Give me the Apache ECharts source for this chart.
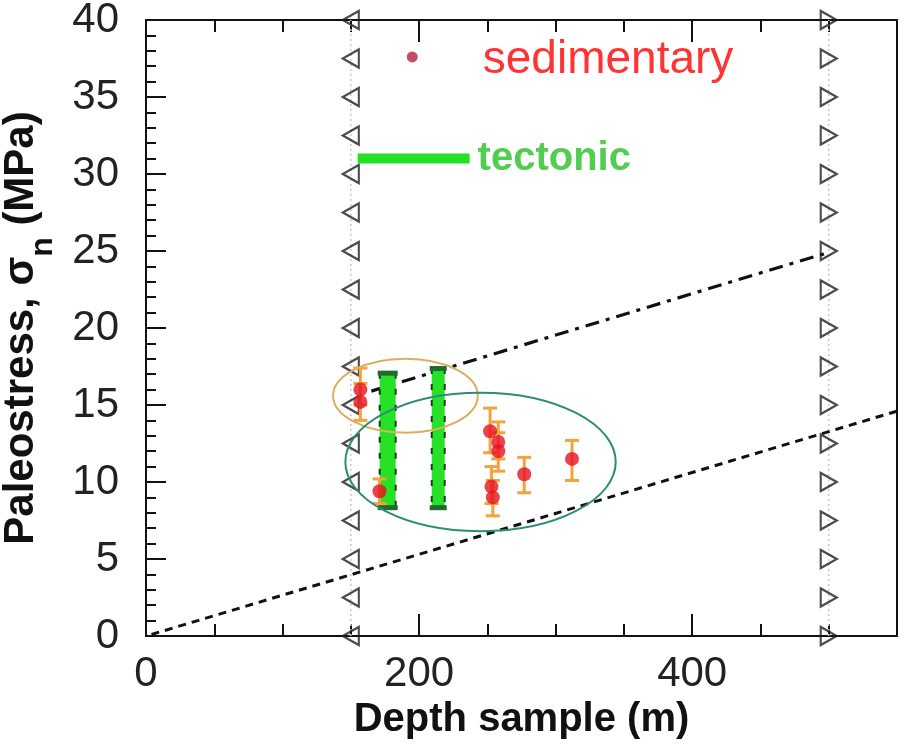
<!DOCTYPE html>
<html><head><meta charset="utf-8">
<script src="https://cdn.jsdelivr.net/npm/echarts@6/dist/echarts.min.js"></script>
<style>html,body{margin:0;padding:0;background:#fff}#c{width:906px;height:746px}</style>
</head><body><div id="c"></div>
<script>
// ---- data ----
const xTickLabels = [0, 200, 400];
const yTickLabels = [0, 5, 10, 15, 20, 25, 30, 35, 40];
const triangleY = [0, 2.5, 5, 7.5, 10, 12.5, 15, 17.5, 20, 22.5, 25, 27.5, 30, 32.5, 35, 37.5, 40];
const triangleLeftX = 150;
const triangleRightX = 500;
// sedimentary samples
const sedX    = [157, 157, 171, 252, 258, 258, 253, 254, 277, 312];
const sedY    = [16.0, 15.2, 9.4, 13.3, 12.6, 12.0, 9.7, 9.0, 10.5, 11.5];
const sedLow  = [15.0, 14.0, 8.6, 11.9, 11.5, 10.7, 8.6, 7.8, 9.3, 10.1];
const sedHigh = [17.4, 16.4, 10.2, 14.8, 13.9, 13.2, 11.0, 10.1, 11.6, 12.7];
// tectonic ranges
const tecX    = [177, 214];
const tecLow  = [8.3, 8.3];
const tecHigh = [17.1, 17.4];
// reference lines
const upperLineX = [165, 462, 500];
const upperLineY = [15.9, 23.9, 24.9];
const lowerLineX = [4, 550];
const lowerLineY = [0.1, 14.6];
// ellipses: [centerX, centerY, radiusX, radiusY]
const ellipseOrange = [190, 15.6, 53, 2.4];
const ellipseTeal   = [245, 11.3, 99, 4.5];
// legend marks
const legendSed = [195, 37.6];
const legendTecX = [155, 237];
const legendTecY = [31, 31];

// ---- chart ----
const FONT = 'Liberation Sans, Arial, sans-serif';
const chart = echarts.init(document.getElementById('c'));
const zip = (a, b) => a.map((v, i) => [v, b[i]]);

function tecRender(w) {
  return function (params, api) {
    const top = api.coord([api.value(0), api.value(2)]);
    const bot = api.coord([api.value(0), api.value(1)]);
    const x = top[0];
    return {type: 'group', children: [
      {type: 'rect', shape: {x: x - w / 2, y: top[1], width: w, height: bot[1] - top[1]}, style: {fill: '#26e226'}},
      {type: 'line', shape: {x1: x - w / 2, y1: top[1], x2: x - w / 2, y2: bot[1]}, style: {stroke: '#1b3d1b', lineWidth: 2, lineDash: [6, 10]}},
      {type: 'line', shape: {x1: x + w / 2, y1: top[1], x2: x + w / 2, y2: bot[1]}, style: {stroke: '#1b3d1b', lineWidth: 2, lineDash: [6, 10]}},
      {type: 'rect', shape: {x: x - w / 2 - 2, y: top[1] - 2, width: w + 4, height: 5}, style: {fill: '#1f6a2c'}},
      {type: 'rect', shape: {x: x - w / 2 - 2, y: bot[1] - 3, width: w + 4, height: 5}, style: {fill: '#1f6a2c'}}
    ]};
  };
}
function errRender(params, api) {
  const top = api.coord([api.value(0), api.value(2)]);
  const bot = api.coord([api.value(0), api.value(1)]);
  const x = top[0], hw = 7;
  const st = {stroke: '#f3a23c', lineWidth: 3};
  return {type: 'group', children: [
    {type: 'line', shape: {x1: x, y1: top[1], x2: x, y2: bot[1]}, style: st},
    {type: 'line', shape: {x1: x - hw, y1: top[1], x2: x + hw, y2: top[1]}, style: st},
    {type: 'line', shape: {x1: x - hw, y1: bot[1], x2: x + hw, y2: bot[1]}, style: st}
  ]};
}
function ellipseRender(color) {
  return function (params, api) {
    const c = api.coord([api.value(0), api.value(1)]);
    const s = api.size([api.value(2), api.value(3)]);
    const rx = s[0], ry = s[1];
    const d = `M ${c[0] - rx} ${c[1]} A ${rx} ${ry} 0 1 0 ${c[0] + rx} ${c[1]} A ${rx} ${ry} 0 1 0 ${c[0] - rx} ${c[1]} Z`;
    return {type: 'path', shape: {pathData: d}, style: {fill: 'none', stroke: color, lineWidth: 2}};
  };
}

const axisLineStyle = {color: '#111', width: 2};
const xBase = {type: 'value', min: 0, max: 550, splitLine: {show: false}};
const option = {
  animation: false,
  backgroundColor: '#fff',
  grid: {left: 146, right: 9, top: 20, bottom: 110, containLabel: false, outerBoundsMode: 'none'},
  xAxis: [
    Object.assign({}, xBase, {
      position: 'bottom', interval: 200,
      axisLine: {onZero: false, lineStyle: axisLineStyle},
      axisTick: {inside: true, length: 22, lineStyle: {color: '#111', width: 2}},
      axisLabel: {fontSize: 42, color: '#222', fontFamily: FONT, margin: 17,
        formatter: v => (xTickLabels.indexOf(v) >= 0 ? String(v) : '')},
      name: 'Depth sample (m)', nameLocation: 'middle', nameGap: 54,
      nameTextStyle: {fontSize: 40, fontWeight: 'bold', color: '#111', fontFamily: FONT}
    }),
    Object.assign({}, xBase, {
      position: 'bottom', interval: 50,
      axisLine: {show: false, onZero: false},
      axisTick: {inside: true, length: 12, lineStyle: {color: '#111', width: 2}},
      axisLabel: {show: false}
    }),
    Object.assign({}, xBase, {
      position: 'top', interval: 200,
      axisLine: {onZero: false, lineStyle: axisLineStyle},
      axisTick: {inside: true, length: 22, lineStyle: {color: '#111', width: 2}},
      axisLabel: {show: false}
    }),
    Object.assign({}, xBase, {
      position: 'top', interval: 50,
      axisLine: {show: false, onZero: false},
      axisTick: {inside: true, length: 12, lineStyle: {color: '#111', width: 2}},
      axisLabel: {show: false}
    })
  ],
  yAxis: [
    {
      type: 'value', min: 0, max: 40, interval: 5, position: 'left',
      splitLine: {show: false},
      axisLine: {onZero: false, lineStyle: axisLineStyle},
      axisTick: {inside: true, length: 20, lineStyle: {color: '#111', width: 2}},
      minorTick: {show: true, splitNumber: 5, length: 10, lineStyle: {color: '#111', width: 2}},
      axisLabel: {fontSize: 42, color: '#222', fontFamily: FONT, margin: 27,
        formatter: v => (yTickLabels.indexOf(v) >= 0 ? String(v) : '')},
      name: '{m|Paleostress, σ}{s|n}{m| (MPa)}', nameLocation: 'middle', nameGap: 87,
      nameTextStyle: {
        rich: {
          m: {fontSize: 42, fontWeight: 'bold', color: '#111', fontFamily: FONT},
          s: {fontSize: 32, fontWeight: 'bold', color: '#111', fontFamily: FONT, padding: [44, 0, 0, 0]}
        }
      }
    },
    {
      type: 'value', min: 0, max: 40, position: 'right',
      splitLine: {show: false},
      axisLine: {onZero: false, lineStyle: axisLineStyle},
      axisTick: {show: false}, axisLabel: {show: false}
    }
  ],
  series: [
    {type: 'line', data: [[triangleLeftX, 0], [triangleLeftX, 40]], showSymbol: false, silent: true,
      lineStyle: {color: '#c8c8c8', width: 1.5, type: [2, 3]}, z: 1},
    {type: 'line', data: [[triangleRightX, 0], [triangleRightX, 40]], showSymbol: false, silent: true,
      lineStyle: {color: '#c8c8c8', width: 1.5, type: [2, 3]}, z: 1},
    {type: 'scatter', data: triangleY.map(y => [triangleLeftX, y]), symbol: 'triangle', symbolRotate: 90,
      symbolSize: [18, 16], itemStyle: {color: 'rgba(255,255,255,0)', borderColor: '#1e1e1e', borderWidth: 2.2}, z: 2, clip: false},
    {type: 'scatter', data: triangleY.map(y => [triangleRightX, y]), symbol: 'triangle', symbolRotate: -90,
      symbolSize: [18, 16], itemStyle: {color: 'rgba(255,255,255,0)', borderColor: '#1e1e1e', borderWidth: 2.2}, z: 2, clip: false},
    {type: 'line', data: zip(lowerLineX, lowerLineY), showSymbol: false,
      lineStyle: {color: '#111', width: 3, type: [8, 6]}, z: 3},
    {type: 'line', data: zip(upperLineX, upperLineY), showSymbol: false,
      lineStyle: {color: '#111', width: 3.2, type: [14, 7, 4, 7]}, z: 3},
    {type: 'custom', renderItem: tecRender(16), data: [[tecX[0], tecLow[0], tecHigh[0]]], z: 4},
    {type: 'custom', renderItem: tecRender(13), data: [[tecX[1], tecLow[1], tecHigh[1]]], z: 4},
    {type: 'custom', renderItem: errRender, data: sedX.map((x, i) => [x, sedLow[i], sedHigh[i]]), z: 5},
    {type: 'scatter', data: zip(sedX, sedY), symbolSize: 14, itemStyle: {color: '#e5121f'}, z: 6},
    {type: 'custom', renderItem: ellipseRender('#dcae5e'), data: [ellipseOrange], z: 7},
    {type: 'custom', renderItem: ellipseRender('#2e8b78'), data: [ellipseTeal], z: 7},
    {type: 'scatter', data: [legendSed], symbolSize: 11, itemStyle: {color: '#b3213f'}, z: 8,
      label: {show: true, position: 'right', distance: 65, offset: [0, 3], formatter: 'sedimentary',
        fontSize: 46, color: '#ff0000', fontFamily: FONT}},
    {type: 'line', data: zip(legendTecX, legendTecY), showSymbol: false,
      lineStyle: {color: '#22e022', width: 10, cap: 'butt'}, z: 8,
      endLabel: {show: true, formatter: 'tectonic', distance: 8, fontSize: 40, fontWeight: 'bold',
        color: '#52cd52', fontFamily: FONT}}
  ]
};
chart.setOption(option);
</script>
</body></html>
